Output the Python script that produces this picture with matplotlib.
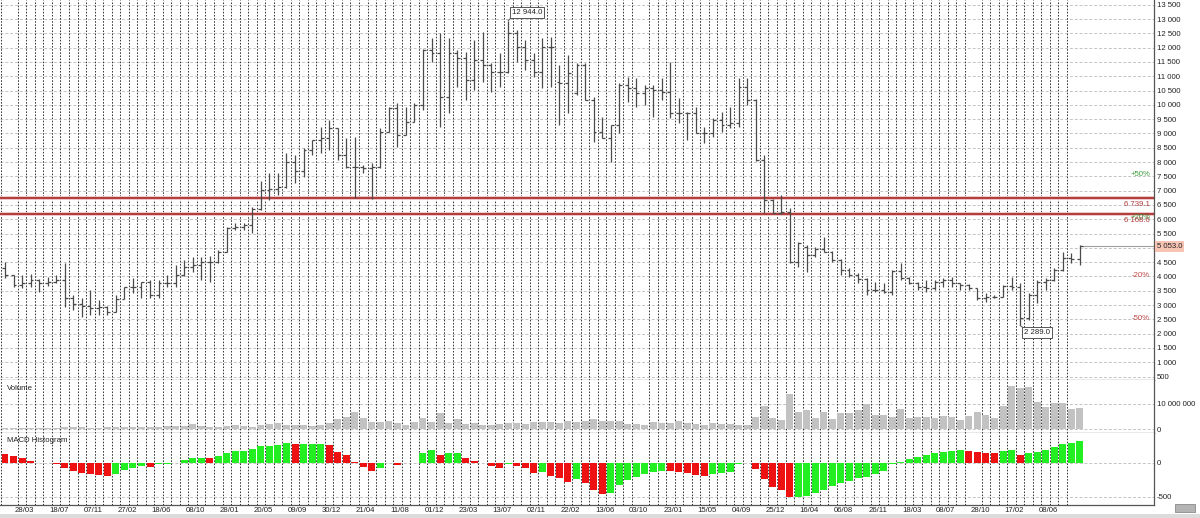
import numpy as np
import matplotlib
matplotlib.use("Agg")
import matplotlib.pyplot as plt
from matplotlib import transforms
from matplotlib.patches import Rectangle

plt.rcParams['font.family'] = ['Liberation Sans', 'DejaVu Sans']

# ---------------- data (4-week bars) ----------------
opens = [4300, 4050, 3700, 3760, 3875, 3758, 3817, 3875, 3234, 3036,
         2966, 2884, 2919, 2767, 3210, 3619, 3619, 3817, 3350, 3758,
         3758, 4050, 4318, 4400, 4516, 4516, 4866, 5706, 5741, 5799,
         6347, 7023, 7050, 7138, 8013, 7698, 8421, 8771, 8829, 9179,
         8246, 7838, 7838, 7780, 7838, 9062, 9878, 8946, 9412, 9995,
         11919, 11802, 10287, 11802, 11628, 10870, 11569, 11394, 11161, 11161,
         12502, 12036, 11569, 11161, 12036, 10811, 10753, 10403, 11394, 10170,
         9062, 8829, 9295, 10695, 10578, 10403, 10578, 10520, 10461, 9704,
         9704, 9704, 9004, 9004, 9470, 9295, 9354, 10636, 10170, 8071,
         6673, 6230, 6265, 4516, 5041, 4750, 4948, 4866, 4575, 4225,
         4050, 3898, 3525, 3525, 3467, 4202, 3933, 3758, 3642, 3583,
         3817, 3875, 3758, 3700, 3583, 3234, 3292, 3292, 3665, 3642,
         2534, 3350, 3817, 3875, 4225, 4633, 4600]
highs = [4516, 4050, 4050, 4073, 3898, 3992, 4050, 4458, 3350, 3234,
         3525, 3175, 2966, 3350, 3642, 3933, 3817, 3875, 3875, 4050,
         4400, 4575, 4668, 4668, 4715, 4925, 5741, 5857, 5857, 6440,
         7350, 7605, 7605, 8304, 8246, 8479, 8771, 9237, 9470, 9179,
         8829, 8888, 7896, 7955, 9179, 9937, 10053, 9937, 10053, 11950,
         12327, 12502, 12327, 11919, 11861, 12269, 12560, 11453, 11802, 12944,
         12618, 12269, 11802, 12327, 12385, 11394, 11744, 11453, 11453, 10287,
         9587, 9295, 10753, 10986, 10928, 10695, 10695, 10928, 11511, 10228,
         9762, 9937, 9237, 9529, 9762, 9937, 10928, 10928, 10200, 8246,
         6700, 6848, 6382, 5216, 5099, 5041, 5391, 4900, 4600, 4283,
         4108, 3933, 3817, 3758, 4225, 4458, 3992, 3817, 3875, 3875,
         3933, 3992, 3780, 3720, 3600, 3409, 3350, 3700, 3992, 3758,
         3409, 3875, 3933, 4283, 4866, 4808, 5099]
lows = [3933, 3642, 3583, 3642, 3467, 3665, 3758, 2942, 2826, 2592,
        2651, 2651, 2651, 2740, 3200, 3409, 3234, 3234, 3234, 3642,
        3642, 4000, 4167, 3875, 3817, 4458, 4866, 5624, 5624, 5531,
        6324, 6673, 6847, 7100, 7255, 7488, 8246, 8305, 8421, 8071,
        7780, 6730, 7605, 6700, 7800, 9062, 8538, 8946, 9400, 9820,
        11511, 9237, 9704, 10636, 10170, 10520, 10811, 10461, 10636, 11100,
        11511, 11220, 10986, 10578, 10636, 9295, 9704, 10345, 10170, 8713,
        8829, 8013, 9004, 10112, 9937, 9995, 9587, 10170, 9529, 9354,
        8771, 9004, 8654, 8888, 9062, 9179, 9237, 9995, 8050, 6207,
        6207, 6190, 4458, 4342, 4167, 4691, 4866, 4516, 4050, 3992,
        3758, 3350, 3467, 3409, 3350, 3875, 3740, 3525, 3467, 3525,
        3642, 3642, 3525, 3525, 3175, 3117, 3234, 3270, 3525, 2289,
        2476, 3059, 3525, 3850, 4200, 4458, 4400]
closes = [4050, 3700, 3760, 3875, 3758, 3817, 3875, 3234, 3036, 2966,
          2884, 2919, 2767, 3210, 3619, 3619, 3817, 3350, 3758, 3758,
          4050, 4318, 4400, 4516, 4516, 4866, 5706, 5741, 5799, 6347,
          7023, 7050, 7138, 8013, 7698, 8421, 8771, 8829, 9179, 8246,
          7838, 7838, 7780, 7838, 9062, 9878, 8946, 9412, 9995, 11919,
          11802, 10287, 11802, 11628, 10870, 11569, 11394, 11161, 11161, 12502,
          12036, 11569, 11161, 12036, 12036, 10753, 11126, 11394, 10170, 9062,
          8829, 9295, 10695, 10578, 10403, 10578, 10520, 10461, 9704, 9704,
          9704, 9004, 9004, 9470, 9295, 9354, 10636, 10170, 8071, 6673,
          6230, 6265, 4516, 5157, 4750, 4948, 4866, 4575, 4225, 4050,
          3898, 3525, 3525, 3467, 4202, 3933, 3758, 3642, 3583, 3817,
          3875, 3758, 3700, 3583, 3234, 3292, 3292, 3665, 3642, 2534,
          3350, 3817, 3875, 4225, 4633, 4600, 5053]
volume_m = [0.5, 0.6, 0.5, 0.6, 0.5, 0.6, 0.5, 0.8, 0.7, 0.7,
            0.6, 0.6, 0.7, 0.9, 0.9, 0.8, 0.9, 0.8, 1.0, 1.3,
            1.2, 1.3, 1.9, 1.3, 0.9, 0.9, 1.3, 1.6, 1.2, 0.9,
            1.6, 1.9, 2.3, 1.6, 1.6, 1.6, 1.3, 1.6, 2.5, 4.0,
            4.9, 6.9, 4.5, 2.9, 2.7, 3.2, 2.5, 1.6, 2.9, 4.5,
            2.7, 6.3, 2.5, 3.9, 1.9, 2.3, 1.6, 1.6, 1.9, 2.5,
            2.3, 1.9, 2.9, 2.7, 2.7, 2.3, 3.3, 2.9, 3.3, 4.0,
            3.2, 3.3, 3.3, 2.0, 1.9, 1.6, 2.9, 2.5, 2.5, 3.2,
            2.3, 1.9, 1.6, 2.3, 1.9, 1.9, 1.6, 1.6, 4.7, 9.2,
            4.3, 3.6, 14.0, 6.7, 7.6, 4.5, 6.7, 4.0, 6.3, 6.3,
            7.6, 9.9, 5.6, 5.6, 4.9, 8.0, 4.5, 4.9, 4.8, 4.3,
            5.3, 4.9, 3.6, 5.2, 6.7, 5.6, 4.5, 9.2, 17.2, 16.3,
            16.7, 10.7, 8.7, 10.3, 10.3, 7.9, 8.3]
macd_hist = [132, 98, 73, 34, 5, -3, -10, -69, -113, -152,
             -162, -176, -186, -157, -108, -78, -39, -54, -20, -8,
             -3, 44, 69, 78, 72, 98, 152, 176, 181, 206,
             255, 257, 265, 299, 275, 282, 284, 286, 265, 167,
             118, 8, -54, -113, -69, -5, -29, 3, 1, 142,
             191, 118, 142, 145, 69, 34, -2, -39, -69, -8,
             -39, -78, -142, -127, -191, -225, -284, -240, -299, -397,
             -456, -436, -323, -255, -201, -162, -127, -113, -116, -137,
             -140, -176, -196, -167, -142, -127, -15, 5, -93, -235,
             -348, -397, -505, -500, -480, -446, -397, -338, -299, -265,
             -225, -201, -157, -113, -20, 10, 59, 88, 118, 147,
             167, 176, 186, 180, 157, 147, 145, 176, 186, 118,
             147, 167, 196, 235, 279, 299, 328]
tick_labels = ["28/03", "18/07", "07/11", "27/02", "18/06", "08/10", "28/01", "20/05",
               "09/09", "30/12", "21/04", "11/08", "01/12", "23/03", "13/07", "02/11",
               "22/02", "13/06", "03/10", "23/01", "15/05", "04/09", "25/12", "16/04",
               "06/08", "26/11", "18/03", "08/07", "28/10", "17/02", "08/06"]
level_values = [6739.1, 6168.6]
pct_labels = ["+50%", "+20%", "-20%", "-50%"]
pct_factors = [1.5, 1.2, 0.8, 0.5]

# ---------------- layout ----------------
W, H = 1200, 518
fig = plt.figure(figsize=(W / 100, H / 100), dpi=100)
fig.patch.set_facecolor('white')


def px_rect(l, t, r, b):
    return [l / W, 1 - b / H, (r - l) / W, (b - t) / H]


ax_p = fig.add_axes(px_rect(0, 0, 1154, 380))
ax_v = fig.add_axes(px_rect(0, 380, 1154, 433))
ax_m = fig.add_axes(px_rect(0, 433, 1154, 505))

n = len(closes)
x = np.arange(n)
XLIM = (-0.586, 134.70)
FS = 5.6
TXT = '#222222'
skip_bounds = {0.5, 74.5, 113.5}
bounds = [k - 0.5 for k in range(0, 126) if (k - 0.5) not in skip_bounds]

for ax in (ax_p, ax_v, ax_m):
    ax.set_xlim(*XLIM)
    ax.set_facecolor('white')
    for s in ('left', 'top'):
        ax.spines[s].set_visible(False)
    ax.spines['right'].set_color('#555555')
    ax.spines['right'].set_linewidth(0.9)
    ax.spines['bottom'].set_color('#555555')
    ax.spines['bottom'].set_linewidth(0.9)
    ax.set_xticks([])
    ax.yaxis.tick_right()
    ax.tick_params(axis='y', length=0, pad=2.2, labelsize=FS, labelcolor=TXT)
    for b in bounds:
        ax.axvline(b, color='#303030', lw=0.7, ls=(0, (1.6, 1.6)), zorder=1)


def fmt(v):
    return f"{v:,.0f}".replace(",", " ")


def hgrid(ax, vals):
    for v in vals:
        ax.axhline(v, color='#c4c4c4', lw=0.7, ls=(0, (3, 2)), zorder=0.5)


last = closes[-1]

# ---------------- price panel ----------------
ax_p.set_ylim(379, 13668)
pt = list(range(500, 14000, 500))
ax_p.set_yticks(pt)
# the tick label hidden behind the last-price tag is left blank
ax_p.set_yticklabels(['' if abs(v - last) < 250 else fmt(v) for v in pt])
hgrid(ax_p, pt)

bar_c = '#4a4a4a'
ax_p.vlines(x, lows, highs, color=bar_c, lw=0.9, zorder=3)
ax_p.hlines(opens, x - 0.34, x, color=bar_c, lw=0.9, zorder=3)
ax_p.hlines(closes, x, x + 0.34, color=bar_c, lw=0.9, zorder=3)

for lv in level_values:
    ax_p.axhline(lv, color='#f2c4c4', lw=2.8, zorder=2)
    ax_p.axhline(lv, color='#a32626', lw=1.2, zorder=2.1)

ax_p.plot([n - 1, XLIM[1]], [last, last], color='#a0a0a0', lw=0.8, zorder=2)

xr = 1150 / 1154
ytr = transforms.blended_transform_factory(ax_p.transAxes, ax_p.transData)
for lab, f in zip(pct_labels, pct_factors):
    col = '#3d9b3d' if f > 1 else '#c04848'
    ax_p.text(xr, last * f, lab, transform=ytr, ha='right', va='center',
              fontsize=FS, color=col, zorder=5)
ax_p.text(xr, level_values[0] - 6.7 * 34.97, f"{level_values[0]:,.1f}".replace(",", " "),
          transform=ytr, ha='right', va='center', fontsize=FS, color='#b03a3a', zorder=6)
ax_p.text(xr, level_values[1] - 6.0 * 34.97, f"{level_values[1]:,.1f}".replace(",", " "),
          transform=ytr, ha='right', va='center', fontsize=FS, color='#b03a3a', zorder=6)

# last price tag on axis
ax_p.text(1.0 + 3 / 1154, last, f"{last:,.1f}".replace(",", " "), transform=ytr,
          ha='left', va='center', fontsize=FS, color=TXT, clip_on=False, zorder=7,
          bbox=dict(boxstyle='square,pad=0.25', fc='#f8c4b4', ec='none'))

# high / low callouts
hi_i = int(np.argmax(highs))
lo_i = int(np.argmin(lows))
ax_p.plot([hi_i, hi_i + 0.45], [highs[hi_i], 13090], color='#555555', lw=0.7, zorder=4)
ax_p.text(hi_i + 0.45, 13120, f"{highs[hi_i]:,.1f}".replace(",", " "), fontsize=FS,
          color=TXT, ha='left', va='bottom', zorder=6,
          bbox=dict(boxstyle='square,pad=0.25', fc='white', ec='#555555', lw=0.7))
ax_p.plot([lo_i, lo_i + 0.45], [lows[lo_i], 2180], color='#555555', lw=0.7, zorder=4)
ax_p.text(lo_i + 0.45, 2150, f"{lows[lo_i]:,.1f}".replace(",", " "), fontsize=FS,
          color=TXT, ha='left', va='top', zorder=6,
          bbox=dict(boxstyle='square,pad=0.25', fc='white', ec='#555555', lw=0.7))

# ---------------- volume panel ----------------
vol = np.array(volume_m) * 1e6
ax_v.set_ylim(-1.6e6, 19.6e6)
ax_v.set_yticks([0, 1e7])
ax_v.set_yticklabels([fmt(0), fmt(1e7)])
hgrid(ax_v, [0, 1e7])
ax_v.bar(x, vol, width=0.82, color='#c2c2c2', zorder=3)
ax_v.text(7 / 1154, 1 - 8 / 53, 'Volume', transform=ax_v.transAxes, fontsize=FS,
          color=TXT, ha='left', va='center', zorder=6)

# ---------------- MACD panel ----------------
mh = np.array(macd_hist, dtype=float)
prev = np.concatenate([[mh[0] + 1], mh[:-1]])
cols = np.where(mh >= prev, '#22ee22', '#ee1111')
ax_m.set_ylim(-618, 441)
ax_m.set_yticks([-500, 0])
ax_m.set_yticklabels(['-500', '0'])
hgrid(ax_m, [-500, 0])
ax_m.bar(x, mh, width=0.82, color=cols, zorder=3)
ax_m.text(7 / 1154, 1 - 8 / 72, 'MACD Histogram', transform=ax_m.transAxes, fontsize=FS,
          color=TXT, ha='left', va='center', zorder=6)

# x labels
xt = transforms.blended_transform_factory(ax_m.transData, fig.transFigure)
for k, lab in enumerate(tick_labels):
    ax_m.text(2 + 4 * k + 0.3, 1 - 511 / H, lab, transform=xt, ha='center', va='center',
              fontsize=FS, color=TXT, clip_on=False)

# bottom strip & button
fig.patches.append(Rectangle((0, 0), 1, 4 / H, transform=fig.transFigure,
                             fc='#dcdcdc', ec='none', zorder=0))
fig.patches.append(Rectangle((1175 / W, 1 - 512 / H), 20 / W, 8 / H, transform=fig.transFigure,
                             fc='#b4b4b4', ec='#8a8a8a', lw=0.6, zorder=1))

fig.savefig('out.png', dpi=100)
